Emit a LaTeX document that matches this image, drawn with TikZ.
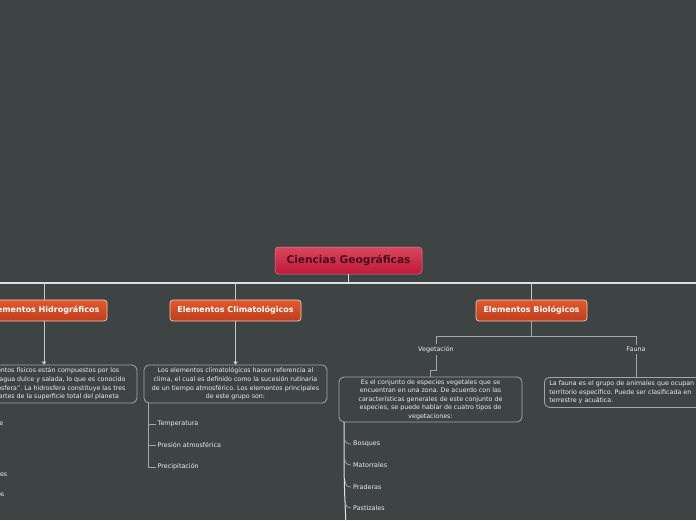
\documentclass[tikz,border=0pt]{standalone}
\usepackage{fontspec}
\setmainfont{DejaVu Sans}
\frenchspacing
\usetikzlibrary{arrows.meta}
\definecolor{bg}{HTML}{3E4444}
\definecolor{rootTop}{HTML}{D8475E}
\definecolor{rootBot}{HTML}{C0183A}
\definecolor{rootTxt}{HTML}{4A0E1A}
\definecolor{brTop}{HTML}{E2582C}
\definecolor{brBot}{HTML}{BF3E1C}
\definecolor{brEdge}{HTML}{F2CDBF}
\definecolor{boxEdge}{HTML}{A2A6A6}
\definecolor{txt}{HTML}{EDEDED}
\definecolor{barCol}{HTML}{DCDFDF}
\definecolor{subCol}{HTML}{A4A8A8}
\tikzset{
  topic/.style={rounded corners=3.5pt, top color=rootTop, bottom color=rootBot,
    draw=rootTop!70!white, line width=0.5pt, text=rootTxt,
    font=\fontsize{10.6}{12}\selectfont\bfseries, inner sep=0pt},
  branch/.style={rounded corners=3pt, top color=brTop, bottom color=brBot,
    draw=brEdge, line width=0.7pt, text=white,
    font=\fontsize{8}{9.5}\selectfont\bfseries, inner sep=0pt, minimum height=21pt},
  descbox/.style={rounded corners=5pt, draw=boxEdge, line width=0.8pt, fill=bg,
    text=txt, font=\fontsize{6.3}{8.6}\selectfont, align=center, inner sep=0pt},
  leaf/.style={text=txt, font=\fontsize{6.4}{7.5}\selectfont, inner sep=2pt},
  bar/.style={draw=barCol, line width=1.2pt},
  link/.style={draw=barCol!85!bg, line width=1pt},
  sub/.style={draw=subCol, line width=0.9pt},
  tip/.style={-{Triangle[width=4.5pt,length=3pt,fill=barCol]}},
}
\begin{document}
\begin{tikzpicture}[x=1pt,y=-1pt]
\useasboundingbox (0,0) rectangle (696,520);
\fill[bg] (0,0) rectangle (696,520);

% root and main bar
\node[topic, minimum width=147pt, minimum height=27pt] (root) at (348.5,260.5) {Ciencias Geográficas};
\coordinate (barL) at (-20,283);
\coordinate (barR) at (716,283);
\draw[bar] (barL) -- (barR);
\draw[bar] (root.south) -- (root.south |- barL);

% main branches
\node[branch, minimum width=126pt] (hydro) at (44,310.5) {Elementos Hidrográficos};
\node[branch, minimum width=131pt] (clim) at (235.5,310.5) {Elementos Climatológicos};
\node[branch, minimum width=111pt] (bio) at (531.5,310.5) {Elementos Biológicos};
\draw[link] (hydro.north |- barL) -- (hydro.north);
\draw[link] (clim.north |- barL) -- (clim.north);
\draw[link] (bio.north |- barL) -- (bio.north);

% description boxes
\node[descbox, minimum width=186pt, minimum height=38pt] (hdesc) at (44,384)
 {Los elementos físicos están compuestos por los\\cuerpos de agua dulce y salada, lo que es conocido\\como “hidrosfera”. La hidrosfera constituye las tres\\cuartas partes de la superficie total del planeta};
\node[descbox, minimum width=183pt, minimum height=38pt] (cdesc) at (235.5,384)
 {Los elementos climatológicos hacen referencia al\\clima, el cual es definido como la sucesión rutinaria\\de un tiempo atmosférico. Los elementos principales\\de este grupo son:};
\draw[link, tip] (hydro.south) -- (hdesc.north);
\draw[link, tip] (clim.south) -- (cdesc.north);

% hydro leaves (mostly outside the page)
\node[leaf, anchor=east] (h1) at (5.5,424) {Agua dulce};
\node[leaf, anchor=east] (h2) at (9.5,474) {Glaciares};
\node[leaf, anchor=east] (h3) at (6.5,495) {Lagos};

% climate leaves
\node[leaf, anchor=west] (c1) at (155.5,424) {Temperatura};
\node[leaf, anchor=west] (c2) at (155.5,445) {Presión atmosférica};
\node[leaf, anchor=west] (c3) at (155.5,467) {Precipitación};
\coordinate (ctop) at (148,403);
\draw[sub] (ctop) |- (c3.west);
\draw[sub] (ctop |- c1.west) -- (c1.west);
\draw[sub] (ctop |- c2.west) -- (c2.west);

% biological subtree
\coordinate (bj) at (531.5,336);
\node[leaf] (veg) at (436,349.5) {Vegetación};
\node[leaf] (fau) at (636,349.5) {Fauna};
\draw[sub] (bio.south) -- (bj);
\draw[sub] (veg.north) -- (veg.north |- bj) -- (fau.north |- bj) -- (fau.north);

\node[descbox, minimum width=183pt, minimum height=45pt] (vdesc) at (430.5,399.5)
 {Es el conjunto de especies vegetales que se\\encuentran en una zona. De acuerdo con las\\características generales de este conjunto de\\especies, se puede hablar de cuatro tipos de\\vegetaciones:};
\node[descbox, align=left, anchor=north west, minimum width=190pt, minimum height=30pt,
      text width=180pt, inner xsep=5pt] (fdesc) at (544,377)
 {La fauna es el grupo de animales que ocupan un\\territorio específico. Puede ser clasificada en\\terrestre y acuática.};
\draw[sub] (veg.south) -- (veg.south |- 0,370) -| (vdesc.north);
\draw[sub] (fau.south) -- (fau.south |- fdesc.north);

% vegetation leaves
\node[leaf, anchor=west] (v1) at (351,444) {Bosques};
\node[leaf, anchor=west] (v2) at (351,465) {Matorrales};
\node[leaf, anchor=west] (v3) at (351,487) {Praderas};
\node[leaf, anchor=west] (v4) at (351,508) {Pastizales};
\coordinate (vtop) at (344,422);
\coordinate (vbot) at (346,525);
\draw[draw=white!85!bg, line width=1pt] (vtop) .. controls (344,480) .. (vbot);
\draw[sub, line width=0.7pt] (344.3,437) .. controls (344.5,442) and (347,444) .. (v1.west);
\draw[sub, line width=0.7pt] (344.6,458) .. controls (344.8,463) and (347,465) .. (v2.west);
\draw[sub, line width=0.7pt] (345.0,480) .. controls (345.2,485) and (347,487) .. (v3.west);
\draw[sub, line width=0.7pt] (345.4,501) .. controls (345.6,506) and (347,508) .. (v4.west);
\end{tikzpicture}
\end{document}
